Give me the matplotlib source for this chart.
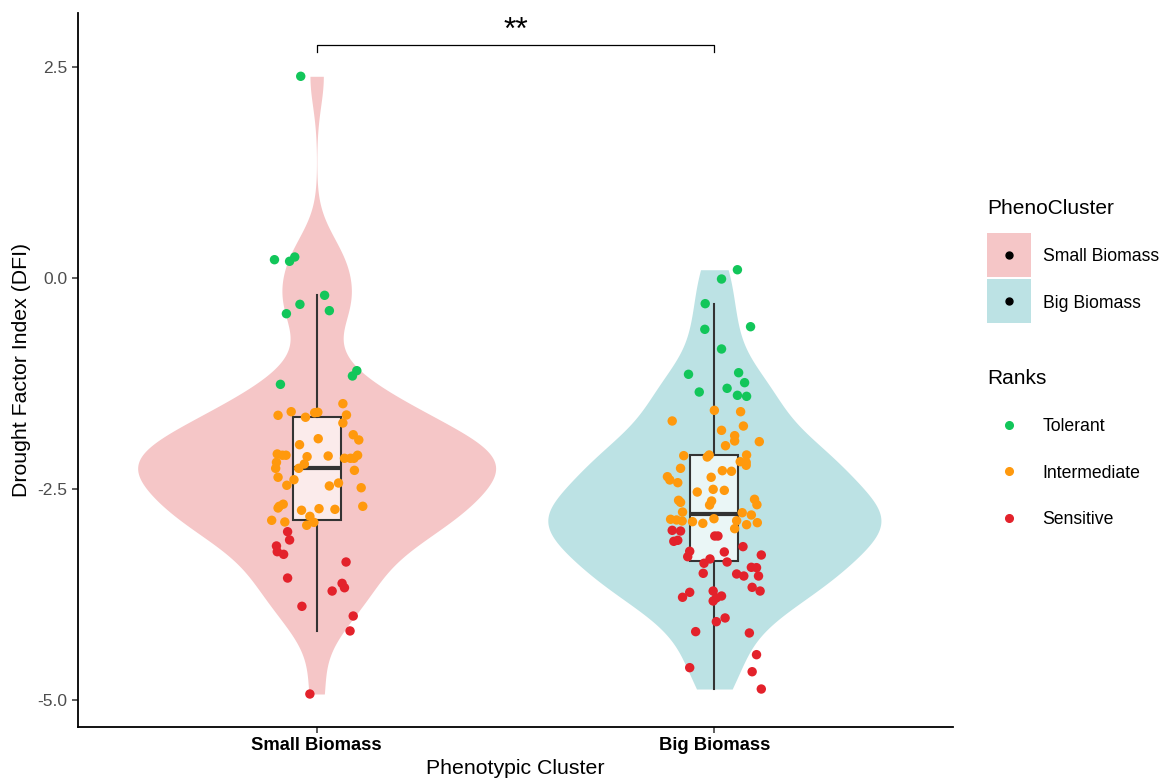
import numpy as np
import matplotlib
matplotlib.use("Agg")
import matplotlib.pyplot as plt
from matplotlib.lines import Line2D

plt.rcParams['font.family'] = ['Liberation Sans', 'DejaVu Sans']
plt.rcParams['axes.unicode_minus'] = False

# Группы и цвета
groups = ['Small Biomass', 'Big Biomass']
group_fill = ['#F5C6C7', '#BCE2E4']
box_fill = [(1, 1, 1, 0.65), (1, 1, 1, 0.7)]
ranks = ['Tolerant', 'Intermediate', 'Sensitive']
rank_color = {'Tolerant': '#12C65A', 'Intermediate': '#FF990D', 'Sensitive': '#E3222B'}

# Small Biomass: значения DFI и смещения джиттера по рангам
small_tol = [2.39, 0.217, 0.198, 0.249, -0.205, -0.312, -0.423, -0.387, -1.098, -1.161, -1.26]
small_tol_jit = [-0.040, -0.106, -0.068, -0.055, 0.020, -0.042, -0.076, 0.032, 0.101, 0.090, -0.091]
small_int = [-1.489, -1.584, -1.627, -1.596, -1.591, -1.650, -1.623, -1.718, -1.904, -1.857,
             -1.919, -1.975, -2.085, -2.100, -2.100, -2.117, -2.109, -2.136, -2.136, -2.136,
             -2.100, -2.184, -2.255, -2.204, -2.255, -2.279, -2.361, -2.390, -2.456, -2.464,
             -2.429, -2.485, -2.680, -2.705, -2.725, -2.705, -2.752, -2.733, -2.741, -2.824,
             -2.871, -2.891, -2.930, -2.895]
small_int_jit = [0.066, -0.064, -0.097, -0.005, 0.003, -0.028, 0.075, 0.066, 0.004, 0.092,
                 0.106, -0.043, -0.099, -0.086, -0.077, -0.024, 0.029, 0.070, 0.085, 0.094,
                 0.103, -0.101, -0.103, -0.031, -0.045, 0.095, -0.097, -0.057, -0.075, 0.032,
                 0.055, 0.112, -0.084, -0.094, -0.097, 0.116, -0.038, 0.006, 0.046, -0.017,
                 -0.113, -0.080, -0.025, -0.007]
small_sen = [-3.006, -3.104, -3.175, -3.243, -3.274, -3.365, -3.555, -3.618, -3.670, -3.709,
             -3.890, -4.005, -4.182, -4.929]
small_sen_jit = [-0.073, -0.068, -0.101, -0.099, -0.083, 0.074, -0.073, 0.064, 0.070, 0.039,
                 -0.037, 0.092, 0.084, -0.017]

# Big Biomass
big_tol = [0.098, -0.012, -0.304, -0.608, -0.577, -0.841, -1.141, -1.122, -1.240, -1.351,
           -1.307, -1.390, -1.402]
big_tol_jit = [0.058, 0.018, -0.023, -0.024, 0.091, 0.018, -0.065, 0.061, 0.076, -0.038,
               0.032, 0.058, 0.081]
big_int = [-1.568, -1.584, -1.694, -1.754, -1.805, -1.868, -1.931, -1.939, -1.987, -2.105,
           -2.121, -2.097, -2.097, -2.176, -2.184, -2.219, -2.255, -2.283, -2.290, -2.354,
           -2.393, -2.361, -2.425, -2.504, -2.516, -2.536, -2.634, -2.658, -2.642, -2.690,
           -2.622, -2.686, -2.773, -2.781, -2.808, -2.859, -2.867, -2.879, -2.887, -2.907,
           -2.852, -2.876, -2.923, -2.899, -2.970]
big_int_jit = [0.000, 0.066, -0.106, 0.073, 0.018, 0.051, 0.051, 0.113, 0.028, -0.077,
               -0.018, -0.013, 0.081, 0.065, 0.080, 0.080, -0.085, 0.020, 0.043, -0.118,
               -0.112, -0.008, -0.092, -0.003, 0.025, -0.043, -0.090, -0.085, -0.007, -0.012,
               0.101, 0.107, -0.080, 0.070, 0.093, -0.110, -0.095, -0.081, -0.055, -0.029,
               -0.001, 0.056, 0.081, 0.108, 0.051]
big_sen = [-2.990, -2.998, -3.120, -3.108, -3.057, -3.057, -3.183, -3.238, -3.302, -3.246,
           -3.282, -3.329, -3.380, -3.365, -3.428, -3.432, -3.499, -3.507, -3.531, -3.531,
           -3.665, -3.709, -3.724, -3.783, -3.709, -3.768, -3.791, -3.827, -4.028, -4.072,
           -4.190, -4.206, -4.463, -4.617, -4.665, -4.870]
big_sen_jit = [-0.106, -0.085, -0.102, -0.092, 0.001, 0.009, 0.072, -0.062, -0.067, 0.025,
               0.118, -0.011, -0.026, 0.032, 0.093, 0.106, -0.028, 0.056, 0.074, 0.111,
               0.095, 0.115, -0.062, -0.080, -0.003, 0.018, 0.005, -0.003, 0.027, 0.005,
               -0.047, 0.088, 0.106, -0.062, 0.095, 0.118]

data = {
    'Small Biomass': {'Tolerant': (small_tol, small_tol_jit),
                      'Intermediate': (small_int, small_int_jit),
                      'Sensitive': (small_sen, small_sen_jit)},
    'Big Biomass': {'Tolerant': (big_tol, big_tol_jit),
                    'Intermediate': (big_int, big_int_jit),
                    'Sensitive': (big_sen, big_sen_jit)},
}


def kde_nrd0(vals, grid):
    # гауссово ядро с шириной bw.nrd0, как в R
    n = len(vals)
    sd = np.std(vals, ddof=1)
    q75, q25 = np.percentile(vals, [75, 25])
    bw = 0.9 * min(sd, (q75 - q25) / 1.34) * n ** -0.2
    z = (grid[:, None] - vals[None, :]) / bw
    return np.exp(-0.5 * z ** 2).sum(axis=1) / (n * bw * np.sqrt(2 * np.pi))


fig = plt.figure(figsize=(11.63, 7.80), dpi=100)
ax = fig.add_axes([78 / 1163, 53 / 780, (953 - 78) / 1163, (767 - 53) / 780])

all_vals = [np.concatenate([np.asarray(data[g][r][0]) for r in ranks]) for g in groups]

# скрипки (scale = "area")
curves = []
for vals in all_vals:
    grid = np.linspace(vals.min(), vals.max(), 512)
    curves.append((grid, kde_nrd0(vals, grid)))
dmax = max(d.max() for _, d in curves)
for i, (grid, dens) in enumerate(curves):
    half = 0.45 * dens / dmax
    ax.fill_betweenx(grid, i + 1 - half, i + 1 + half, color=group_fill[i], lw=0, zorder=1)

# боксплоты
bp = ax.boxplot(all_vals, positions=[1, 2], widths=0.12, patch_artist=True,
                showcaps=False, showfliers=False,
                boxprops=dict(edgecolor='#333333', linewidth=1.5),
                whiskerprops=dict(color='#333333', linewidth=1.5),
                medianprops=dict(color='#333333', linewidth=3), zorder=2)
for patch, fc in zip(bp['boxes'], box_fill):
    patch.set_facecolor(fc)

# точки
for i, g in enumerate(groups):
    for r in ranks:
        vals, jit = data[g][r]
        ax.scatter(i + 1 + np.asarray(jit), vals, s=46, color=rank_color[r],
                   edgecolors='none', zorder=3)

# скобка значимости
ax.plot([1, 1, 2, 2], [2.68, 2.76, 2.76, 2.68], color='black', lw=0.9, clip_on=False)
ax.text(1.5, 2.93, '**', ha='center', va='center', fontsize=23)

ax.set_xlim(0.4, 2.6)
ax.set_ylim(-5.32, 3.14)
ax.set_xticks([1, 2])
ax.set_xticklabels(groups, fontsize=13.2, fontweight='bold', color='black')
ax.set_yticks([-5.0, -2.5, 0.0, 2.5])
ax.set_yticklabels(['-5.0', '-2.5', '0.0', '2.5'], fontsize=12.5, color='#4D4D4D')
ax.tick_params(length=4, width=1.1, color='#333333')
ax.set_xlabel('Phenotypic Cluster', fontsize=15.3, labelpad=3)
ax.set_ylabel('Drought Factor Index (DFI)', fontsize=15.3, labelpad=5)
for side in ['top', 'right']:
    ax.spines[side].set_visible(False)
for side in ['left', 'bottom']:
    ax.spines[side].set_linewidth(1.3)

# легенды
leg_kw = dict(loc='upper left', frameon=False, fontsize=12.7, title_fontsize=15,
              handlelength=2.5, labelspacing=1.69,
              handletextpad=0.65, alignment='left', borderpad=0, borderaxespad=0)

h1 = [(Line2D([], [], marker='s', markersize=31.7, color=c, ls='', markeredgewidth=0),
       Line2D([], [], marker='o', color='black', ls='', markersize=5)) for c in group_fill]
fig.legend(h1, groups, title='PhenoCluster',
           bbox_to_anchor=(987 / 1163, 1 - 199 / 780), **leg_kw)

h2 = [Line2D([], [], marker='o', color=rank_color[r], ls='', markersize=5.5) for r in ranks]
fig.legend(h2, ranks, title='Ranks',
           bbox_to_anchor=(987 / 1163, 1 - 369 / 780), **leg_kw)

fig.savefig('out.png', dpi=100)
